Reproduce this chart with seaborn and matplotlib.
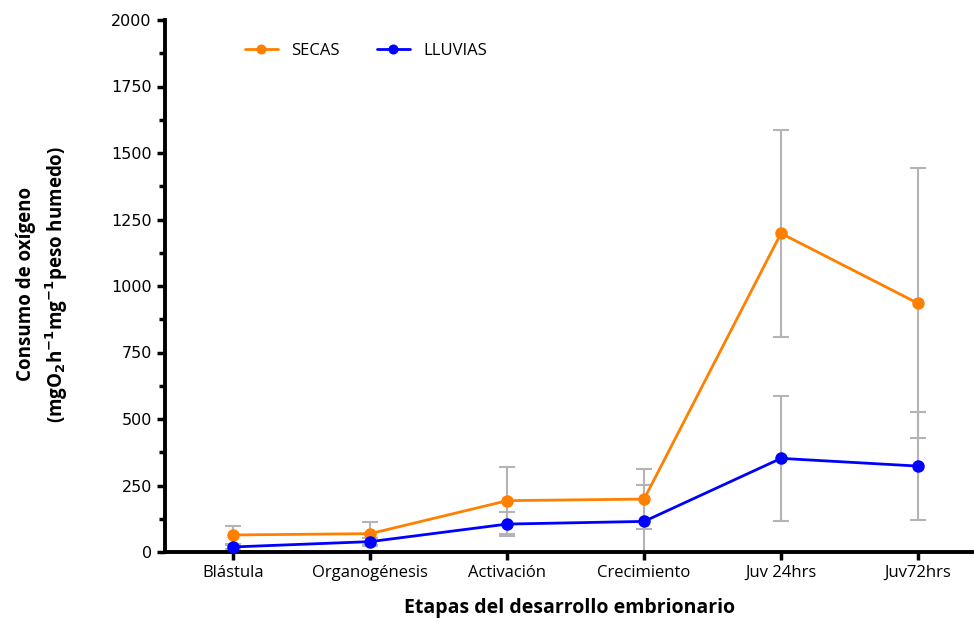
import matplotlib
matplotlib.use("Agg")
import matplotlib.pyplot as plt
from matplotlib.ticker import MultipleLocator
import pandas as pd
import seaborn as sns

# etapas y valores (media +- error)
etapas = ["Blástula", "Organogénesis", "Activación", "Crecimiento", "Juv 24hrs", "Juv72hrs"]
secas = [64, 69, 193, 199, 1198, 935]
secas_err = [34, 44, 127, 114, 390, 508]
lluvias = [19, 39, 105, 115, 352, 323]
lluvias_err = [8, 15, 45, 138, 235, 203]

COLORS = {"SECAS": "#ff8000", "LLUVIAS": "#0000ff"}

df = pd.concat([
    pd.DataFrame({"etapa": etapas, "valor": secas, "err": secas_err, "grupo": "SECAS"}),
    pd.DataFrame({"etapa": etapas, "valor": lluvias, "err": lluvias_err, "grupo": "LLUVIAS"}),
])

sns.set_theme(style="ticks")
plt.rcParams["font.family"] = ["Open Sans", "DejaVu Sans"]
plt.rcParams["text.color"] = "black"
plt.rcParams["axes.labelcolor"] = "black"
plt.rcParams["xtick.color"] = "black"
plt.rcParams["ytick.color"] = "black"

fig = plt.figure(figsize=(9.74, 6.18), dpi=100)
ax = fig.add_axes([165 / 974, 66 / 618, 809 / 974, 532 / 618])

# barras de error grises detras de las lineas
for grupo, sub in df.groupby("grupo", sort=False):
    ax.errorbar(sub["etapa"], sub["valor"], yerr=sub["err"], fmt="none",
                ecolor="#b4b4b4", elinewidth=1.5, capsize=6, capthick=1.5, zorder=1)

sns.lineplot(data=df, x="etapa", y="valor", hue="grupo", palette=COLORS,
             marker="o", markersize=9, markeredgewidth=0, linewidth=2,
             sort=False, ax=ax, zorder=3)

ax.set_xlim(-0.5, 5.41)
ax.set_ylim(0, 2000)
ax.yaxis.set_major_locator(MultipleLocator(250))
ax.yaxis.set_minor_locator(MultipleLocator(125))

for side in ["top", "right"]:
    ax.spines[side].set_visible(False)
for side in ["left", "bottom"]:
    ax.spines[side].set_linewidth(2.8)
    ax.spines[side].set_color("black")

ax.tick_params(axis="both", which="major", length=6, width=2.5, color="black",
               labelsize=12, labelcolor="black", direction="out")
ax.tick_params(axis="y", which="minor", length=4, width=2.5, color="black")
for lab in ax.get_yticklabels():
    lab.set_family("DejaVu Sans")
    lab.set_fontsize(11.5)

ax.set_xlabel("Etapas del desarrollo embrionario", fontsize=14, fontweight="bold",
              labelpad=12, color="black")
ax.set_ylabel("")
fig.text(0.027, 0.54, "Consumo de oxígeno", rotation=90, fontsize=13.5,
         fontweight="bold", ha="center", va="center", color="black")
fig.text(0.058, 0.54, r"(mgO$_\mathbf{2}$h$^\mathbf{-1}$mg$^\mathbf{-1}$peso humedo)",
         rotation=90, fontsize=13.5, fontweight="bold", ha="center", va="center",
         color="black")

leg = ax.legend(title=None, frameon=False, ncol=2, loc="upper left",
                bbox_to_anchor=(0.08, 0.985), fontsize=12, columnspacing=2.2,
                handlelength=2.0, markerscale=0.8)
for t in leg.get_texts():
    t.set_color("black")

fig.savefig("out.png", dpi=100)
